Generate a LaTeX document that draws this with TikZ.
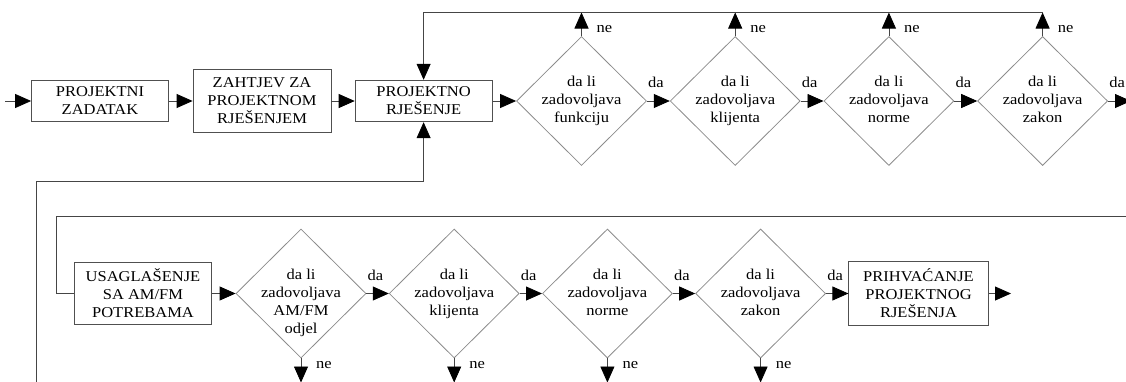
\documentclass[tikz,border=0pt]{standalone}
\usepackage{fontspec}
\setmainfont{Liberation Serif}[FakeStretch=1.1]
\usetikzlibrary{shapes.geometric,arrows.meta}
\definecolor{boxc}{HTML}{505050}
\definecolor{diac}{HTML}{8C8C8C}
\definecolor{linec}{HTML}{454545}
\begin{document}
\begin{tikzpicture}[x=1pt,y=-1pt,
  font=\fontsize{15}{18}\selectfont,
  box/.style={draw=boxc, line width=0.8pt, align=center, inner sep=0pt},
  dia/.style={diamond, draw=diac, line width=0.8pt, minimum width=130pt, minimum height=129pt, inner sep=0pt},
  dtext/.style={align=center, inner sep=0pt, anchor=north},
  lbl/.style={inner sep=0pt},
  conn/.style={draw=linec, line width=0.8pt},
  arr/.style={draw=linec, line width=0.8pt, -{Triangle[length=16pt,width=14pt,color=black]}}]
\clip (0,0) rectangle (1126,381);
% ---------- top row ----------
\coordinate (in) at (5,101);
\node[box, minimum width=137pt, minimum height=41.6pt] (b1) at (100,101) {PROJEKTNI\\ZADATAK};
\node[box, minimum width=138pt, minimum height=63.4pt] (b2) at (262,101) {ZAHTJEV ZA\\PROJEKTNOM\\RJEŠENJEM};
\node[box, minimum width=137pt, minimum height=41.6pt] (b3) at (423.6,101) {PROJEKTNO\\RJEŠENJE};
\node[dia] (d1) at (581.5,101) {};
\node[dia] (d2) at (735.2,101) {};
\node[dia] (d3) at (888.9,101) {};
\node[dia] (d4) at (1042.6,101) {};
\node[dtext] (t1) at ([yshift=25pt]d1.center) {da li\\zadovoljava\\funkciju};
\node[dtext] (t2) at ([yshift=25pt]d2.center) {da li\\zadovoljava\\klijenta};
\node[dtext] (t3) at ([yshift=25pt]d3.center) {da li\\zadovoljava\\norme};
\node[dtext] (t4) at ([yshift=25pt]d4.center) {da li\\zadovoljava\\zakon};
\coordinate (tl) at (423.6,12.5);
\coordinate (rout) at (1131,101);
\draw[arr] (in) -- (b1.west);
\draw[arr] (b1.east) -- (b2.west);
\draw[arr] (b2.east) -- (b3.west);
\draw[arr] (b3.east) -- (d1.west);
\draw[arr] (d1.east) -- (d2.west);
\draw[arr] (d2.east) -- (d3.west);
\draw[arr] (d3.east) -- (d4.west);
\draw[arr] (d4.east) -- (rout);
\draw[arr] (d1.north) -- (d1.north |- tl);
\draw[arr] (d2.north) -- (d2.north |- tl);
\draw[arr] (d3.north) -- (d3.north |- tl);
\draw[arr] (d4.north) -- (d4.north |- tl);
\draw[arr] (d4.north |- tl) -- (tl) -- (b3.north);
\node[lbl] (ne1) at (604.5,29) {ne};
\node[lbl] (ne2) at (758.2,29) {ne};
\node[lbl] (ne3) at (911.9,29) {ne};
\node[lbl] (ne4) at (1065.6,29) {ne};
\node[lbl] (da1) at (656,82) {da};
\node[lbl] (da2) at (809.7,82) {da};
\node[lbl] (da3) at (963.4,82) {da};
\node[lbl] (da4) at (1117.1,82) {da};
% ---------- outer loop ----------
\coordinate (ol) at (36.8,181.7);
\coordinate (obot) at (36.8,395);
\draw[arr] (obot) -- (ol) -- (ol -| b3) -- (b3.south);
% ---------- bottom row ----------
\node[box, minimum width=137.7pt, minimum height=62.7pt] (b4) at (143,293.5) {USAGLAŠENJE\\SA AM/FM\\POTREBAMA};
\node[dia] (d5) at (301,293.5) {};
\node[dia] (d6) at (454.2,293.5) {};
\node[dia] (d7) at (607.4,293.5) {};
\node[dia] (d8) at (760.6,293.5) {};
\node[dtext] (t5) at ([yshift=25pt]d5.center) {da li\\zadovoljava\\AM/FM\\odjel};
\node[dtext] (t6) at ([yshift=25pt]d6.center) {da li\\zadovoljava\\klijenta};
\node[dtext] (t7) at ([yshift=25pt]d7.center) {da li\\zadovoljava\\norme};
\node[dtext] (t8) at ([yshift=25pt]d8.center) {da li\\zadovoljava\\zakon};
\node[box, minimum width=139.4pt, minimum height=64.4pt] (b5) at (918.5,293.5) {PRIHVAĆANJE\\PROJEKTNOG\\RJEŠENJA};
\coordinate (il) at (56.4,216);
\coordinate (ir) at (1140,216);
\coordinate (bot) at (0,382.5);
\coordinate (out) at (1011,293.5);
\draw[conn] (ir) -- (il) -- (il |- b4.west) -- (b4.west);
\draw[arr] (b4.east) -- (d5.west);
\draw[arr] (d5.east) -- (d6.west);
\draw[arr] (d6.east) -- (d7.west);
\draw[arr] (d7.east) -- (d8.west);
\draw[arr] (d8.east) -- (b5.west);
\draw[arr] (b5.east) -- (out);
\draw[arr] (d5.south) -- (d5.south |- bot);
\draw[arr] (d6.south) -- (d6.south |- bot);
\draw[arr] (d7.south) -- (d7.south |- bot);
\draw[arr] (d8.south) -- (d8.south |- bot);
\node[lbl] (ne5) at (324,365) {ne};
\node[lbl] (ne6) at (477.2,365) {ne};
\node[lbl] (ne7) at (630.4,365) {ne};
\node[lbl] (ne8) at (783.6,365) {ne};
\node[lbl] (da5) at (375.5,275.7) {da};
\node[lbl] (da6) at (528.7,275.7) {da};
\node[lbl] (da7) at (681.9,275.7) {da};
\node[lbl] (da8) at (835.1,275.7) {da};
\end{tikzpicture}
\end{document}
